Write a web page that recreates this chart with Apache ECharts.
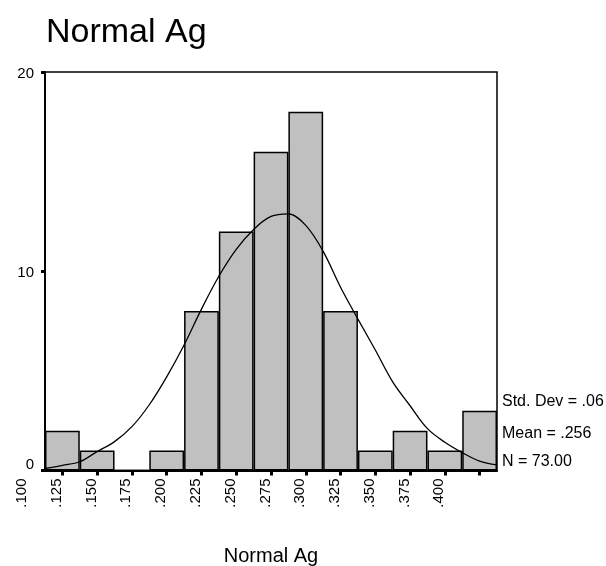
<!DOCTYPE html>
<html>
<head>
<meta charset="utf-8">
<script src="https://cdn.jsdelivr.net/npm/echarts@6/dist/echarts.min.js"></script>
<style>
  html, body { margin: 0; padding: 0; background: #fff; }
  #chart { width: 606px; height: 566px; }
</style>
</head>
<body>
<div id="chart"></div>
<script>
// Histogram bins (13 equal-width bins) and their counts
const binCounts = [2, 1, 0, 1, 8, 12, 16, 18, 8, 1, 2, 1, 3];
// Axis tick labels under the bins
const tickLabels = ['.100', '.125', '.150', '.175', '.200', '.225', '.250',
                    '.275', '.300', '.325', '.350', '.375', '.400'];
// Fitted normal curve: position in bin units (0 = left edge) and height in counts
const curveX = [0, 0.5, 1.0, 1.5, 2.0, 2.5, 3.0, 3.5, 4.0, 4.5, 5.0, 5.5, 6.0, 6.5,
                7.0, 7.5, 8.0, 8.5, 9.0, 9.5, 10.0, 10.5, 11.0, 11.5, 12.0, 12.5, 13.0];
const curveY = [0.10, 0.26, 0.44, 0.95, 1.45, 2.2, 3.3, 4.7, 6.3, 8.1, 9.75, 11.1, 12.1, 12.75,
                12.88, 12.3, 11.0, 9.2, 7.6, 6.05, 4.45, 3.25, 2.1, 1.42, 0.9, 0.47, 0.28];
// Summary statistics
const statLines = ['Std. Dev = .06', 'Mean = .256', 'N = 73.00'];
const titleText = 'Normal Ag';
const axisTitle = 'Normal Ag';

const FONT = '"Liberation Sans", Arial, sans-serif';
const binIdx = binCounts.map((_, i) => String(i));

const chart = echarts.init(document.getElementById('chart'), null, { renderer: 'canvas' });

const statTop = [394, 426, 454];

chart.setOption({
  animation: false,
  backgroundColor: '#ffffff',
  title: {
    text: titleText,
    left: 41,
    top: 11,
    textStyle: { fontFamily: FONT, fontSize: 34, fontWeight: 'normal', color: '#000' }
  },
  grid: [
    { left: 45, right: 109, top: 72, bottom: 95.5, show: true, outerBoundsMode: 'none',
      containLabel: false,
      borderColor: '#000', borderWidth: 1.5, backgroundColor: 'transparent' },
    { left: 4.6, width: 452, top: 72, bottom: 95.5, outerBoundsMode: 'none', containLabel: false }
  ],
  xAxis: [
    {
      type: 'category', gridIndex: 0, data: binIdx, boundaryGap: true,
      axisLine: { show: true, lineStyle: { color: '#000', width: 2 } },
      axisTick: { show: true, alignWithLabel: true, length: 5, lineStyle: { color: '#000', width: 3 } },
      axisLabel: { show: false },
      splitLine: { show: false },
      name: axisTitle, nameLocation: 'middle', nameGap: 76,
      nameTextStyle: { fontFamily: FONT, fontSize: 20, color: '#000' }
    },
    {
      type: 'category', gridIndex: 1, data: tickLabels, boundaryGap: true,
      axisLine: { show: false }, axisTick: { show: false },
      axisLabel: { rotate: 90, margin: 8, fontFamily: FONT, fontSize: 15, color: '#000', interval: 0 },
      splitLine: { show: false }
    },
    {
      type: 'value', gridIndex: 0, min: 0, max: 13, show: false
    }
  ],
  yAxis: [
    {
      type: 'value', gridIndex: 0, min: 0, max: 20, interval: 10,
      axisLine: { show: true, lineStyle: { color: '#000', width: 2 } },
      axisTick: { show: true, length: 4, lineStyle: { color: '#000', width: 3 } },
      axisLabel: {
        margin: 11, fontFamily: FONT, fontSize: 15, color: '#000',
        formatter: v => (v === 0 ? '{lift|0}' : '{drop|' + v + '}'),
        rich: {
          lift: { fontFamily: FONT, fontSize: 15, color: '#000', padding: [0, 0, 12, 0] },
          drop: { fontFamily: FONT, fontSize: 15, color: '#000', padding: [4, 0, 0, 0] }
        }
      },
      splitLine: { show: false }
    },
    { type: 'value', gridIndex: 1, min: 0, max: 20, show: false }
  ],
  graphic: statLines.map((t, i) => ({
    type: 'text', left: 502, top: statTop[i], z: 10,
    style: { text: t, fill: '#000', font: '16px ' + FONT }
  })),
  series: [
    {
      type: 'bar', xAxisIndex: 0, yAxisIndex: 0,
      data: binCounts, barWidth: '100%', barCategoryGap: '0%',
      itemStyle: { color: '#c0c0c0', borderColor: '#000', borderWidth: 1.5 },
      z: 2
    },
    {
      type: 'line', xAxisIndex: 2, yAxisIndex: 0,
      data: curveX.map((x, i) => [x, curveY[i]]),
      smooth: 0.35, showSymbol: false, symbol: 'none',
      lineStyle: { color: '#000', width: 1.3 },
      z: 5
    }
  ]
});
</script>
</body>
</html>
